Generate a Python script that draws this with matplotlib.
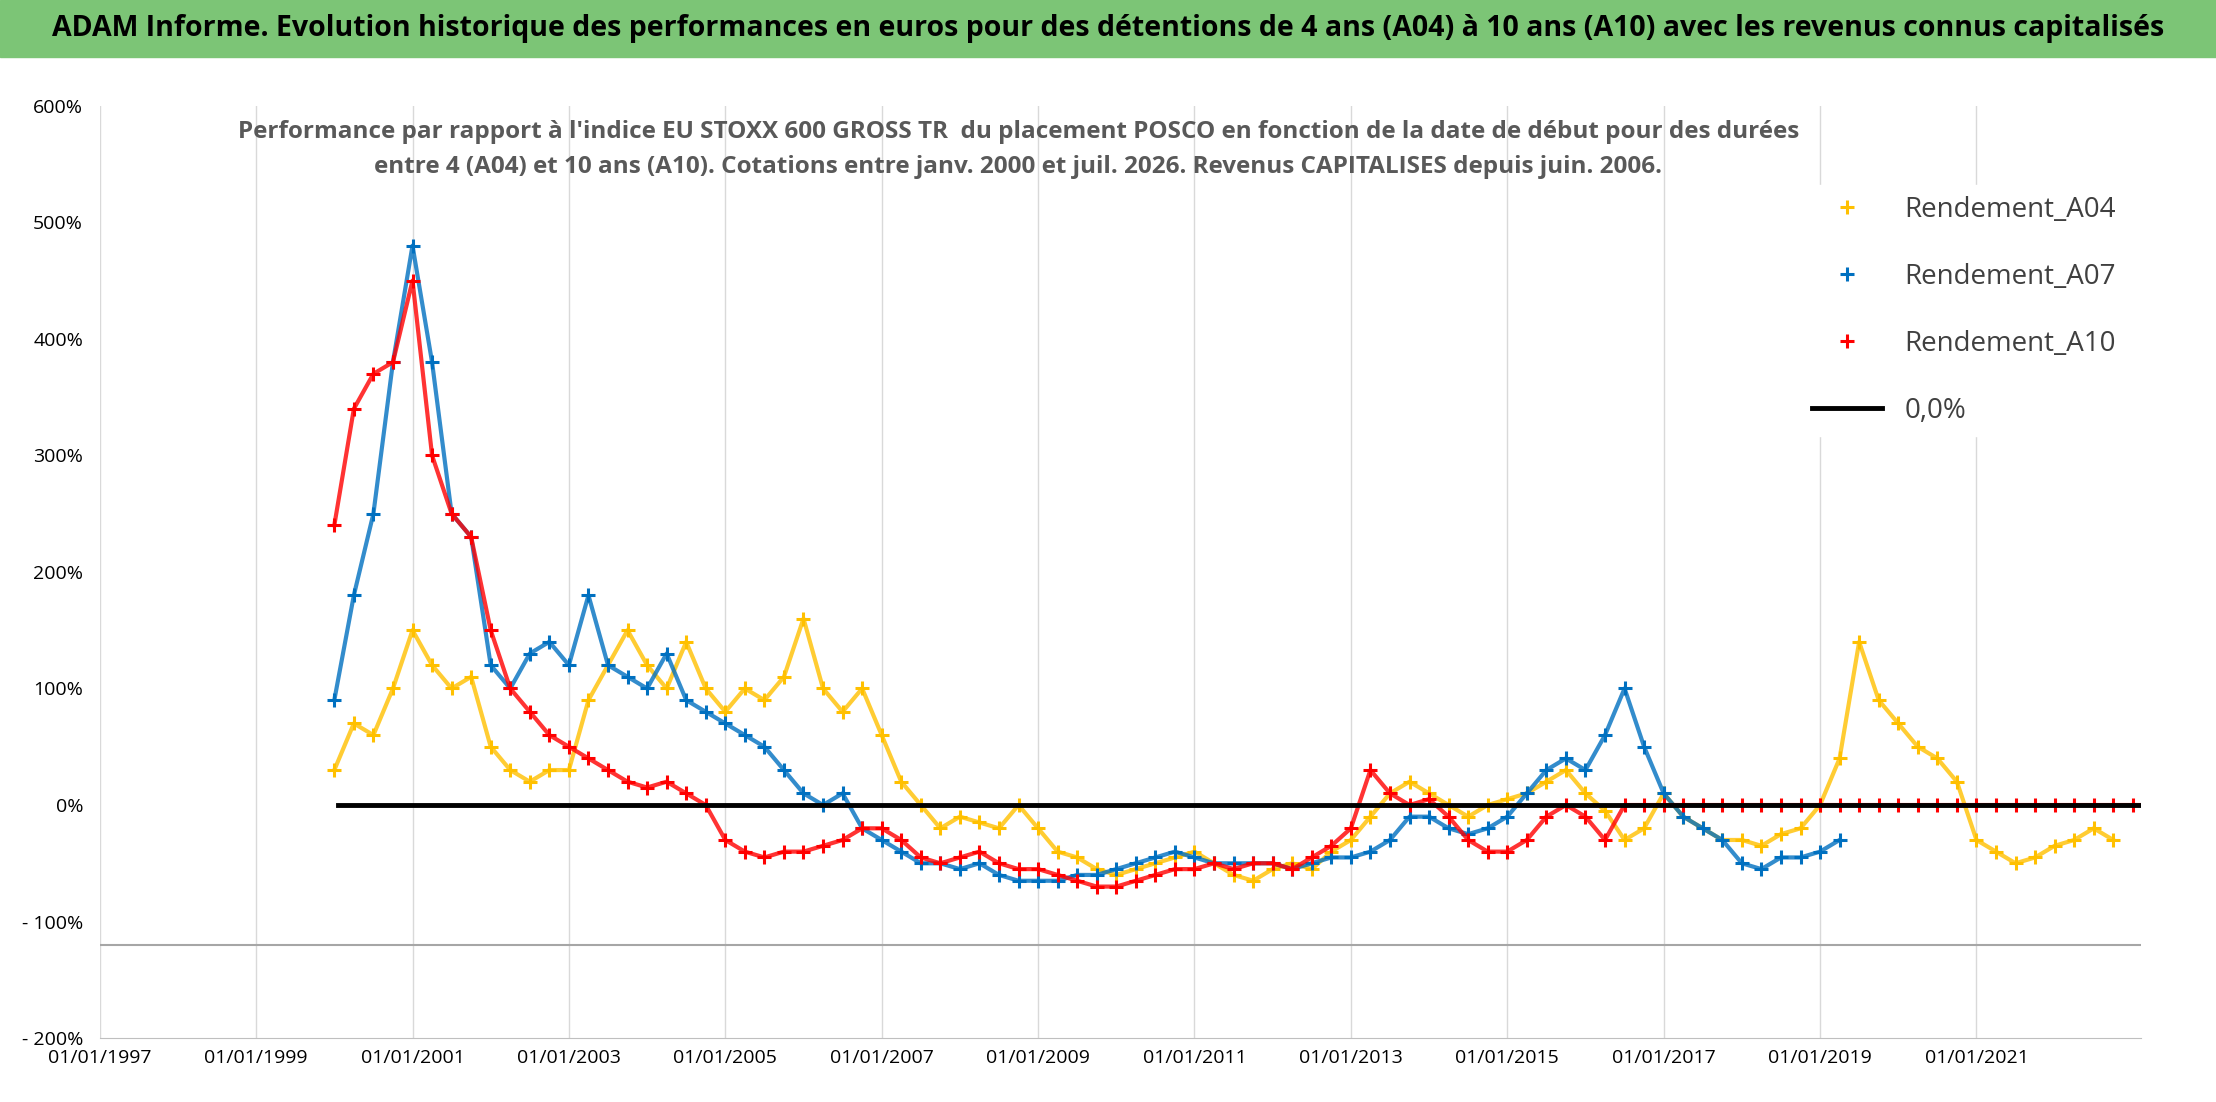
import numpy as np
import matplotlib.pyplot as plt

plt.rcParams['font.family'] = ['Liberation Sans Narrow', 'Open Sans', 'DejaVu Sans']

# quarterly values, starting 2000.0
a04 = [30, 70, 60, 100, 150, 120, 100, 110, 50, 30, 20, 30, 30, 90, 120, 150,
       120, 100, 140, 100, 80, 100, 90, 110, 160, 100, 80, 100, 60, 20, 0, -20,
       -10, -15, -20, 0, -20, -40, -45, -55, -60, -55, -50, -45, -40, -50, -60, -65,
       -55, -50, -55, -40, -30, -10, 10, 20, 10, 0, -10, 0, 5, 10, 20, 30,
       10, -5, -30, -20, 10, -10, -20, -30, -30, -35, -25, -20, 0, 40, 140, 90,
       70, 50, 40, 20, -30, -40, -50, -45, -35, -30, -20, -30]
a07 = [90, 180, 250, 380, 480, 380, 250, 230, 120, 100, 130, 140, 120, 180, 120, 110,
       100, 130, 90, 80, 70, 60, 50, 30, 10, 0, 10, -20, -30, -40, -50, -50,
       -55, -50, -60, -65, -65, -65, -60, -60, -55, -50, -45, -40, -45, -50, -50, -50,
       -50, -55, -50, -45, -45, -40, -30, -10, -10, -20, -25, -20, -10, 10, 30, 40,
       30, 60, 100, 50, 10, -10, -20, -30, -50, -55, -45, -45, -40, -30]
a10 = [240, 340, 370, 380, 450, 300, 250, 230, 150, 100, 80, 60, 50, 40, 30, 20,
       15, 20, 10, 0, -30, -40, -45, -40, -40, -35, -30, -20, -20, -30, -45, -50,
       -45, -40, -50, -55, -55, -60, -65, -70, -70, -65, -60, -55, -55, -50, -55, -50,
       -50, -55, -45, -35, -20, 30, 10, 0, 5, -10, -30, -40, -40, -30, -10, 0,
       -10, -30, 0, 0, 0, 0, 0, 0, 0, 0, 0, 0, 0, 0, 0, 0, 0, 0, 0, 0, 0, 0, 0, 0,
       0, 0, 0, 0, 0, 0, 0, 0, 0, 0, 0, 0]
start = 2000.0
years = list(range(1997, 2022, 2))

fig = plt.figure(figsize=(22.16, 11.02), dpi=100)
fig.patch.set_facecolor('white')
fig.patches.append(plt.Rectangle((0, 0.948), 1, 0.052, transform=fig.transFigure,
                                 color='#7cc576', zorder=0))
fig.text(0.5, 0.974, "ADAM Informe. Evolution historique des performances en euros pour des détentions de 4 ans (A04) à 10 ans (A10) avec les revenus connus capitalisés",
         ha='center', va='center', fontsize=20.5, fontweight='bold')

ax = fig.add_axes([0.045, 0.058, 0.921, 0.846])
for vals, col, lab in [(a04, '#ffc000', 'Rendement_A04'), (a07, '#0070c0', 'Rendement_A07'),
                       (a10, '#ff0000', 'Rendement_A10')]:
    x = start + np.arange(len(vals)) * 0.25
    ax.plot(x, vals, '-', color=col, lw=3, alpha=0.8)
    ax.plot(x, vals, '+', color=col, ms=10, mew=2.2, label=lab)
ax.plot([2000.05, 2023.1], [0, 0], color='black', lw=3.5, label='0,0%')
ax.axhline(-120, color='#a6a6a6', lw=1.5)

ax.set_xlim(1997, 2023.1)
ax.set_ylim(-200, 600)
ax.set_xticks([float(y) for y in years])
ax.set_xticklabels([f"01/01/{y}" for y in years], fontsize=14)
ax.set_yticks(range(-200, 601, 100))
ax.set_yticklabels([f"- {-v}%" if v < 0 else f"{v}%" for v in range(-200, 601, 100)], fontsize=14)
ax.grid(axis='x', color='#d9d9d9', lw=1)
for s in ['top', 'right', 'left']:
    ax.spines[s].set_visible(False)
ax.spines['bottom'].set_color('#bfbfbf')
ax.tick_params(length=0)
ax.tick_params(axis='x', pad=8)
ax.tick_params(axis='y', pad=12)

ax.text(0.45, 0.985, "Performance par rapport à l'indice EU STOXX 600 GROSS TR  du placement POSCO en fonction de la date de début pour des durées\nentre 4 (A04) et 10 ans (A10). Cotations entre janv. 2000 et juil. 2026. Revenus CAPITALISES depuis juin. 2006.",
        transform=ax.transAxes, ha='center', va='top', fontsize=17.5, fontweight='bold',
        color='#595959', linespacing=1.6)
leg = ax.legend(loc='upper right', bbox_to_anchor=(1.0, 0.93), fontsize=20, frameon=True,
                framealpha=1, edgecolor='white', labelspacing=1.4, handlelength=2.5)
for t in leg.get_texts():
    t.set_color('#404040')

fig.savefig('out.png', dpi=100)
